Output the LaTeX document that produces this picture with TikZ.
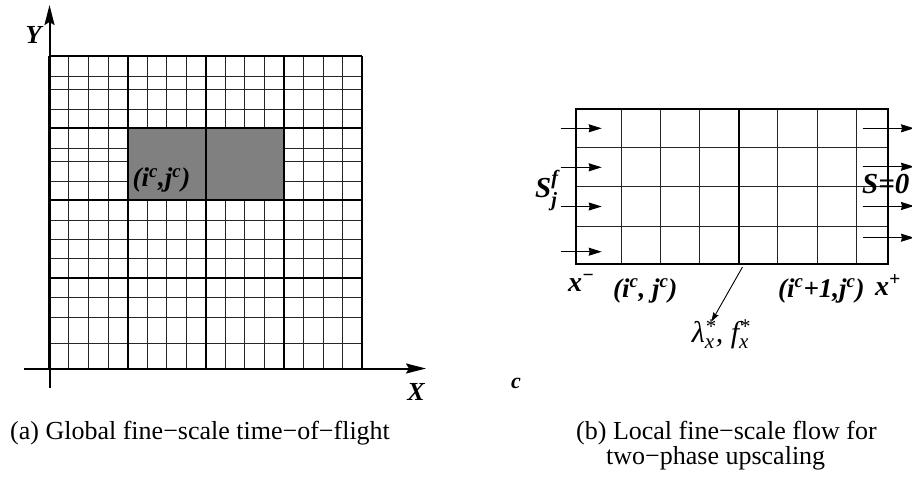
\documentclass[tikz,border=0pt]{standalone}
\usepackage{fontspec}
\usepackage{amsmath}
\setmainfont{Liberation Serif}
\usetikzlibrary{arrows.meta}
\definecolor{cellgray}{RGB}{128,128,128}
\begin{document}
\begin{tikzpicture}[x=1pt,y=-1pt,
  fine/.style={line width=0.9pt, black!85},
  heavy/.style={line width=2pt, black},
  lab/.style={font=\fontsize{26}{30}\selectfont\bfseries\itshape, inner sep=0pt},
  rlab/.style={font=\fontsize{28}{32}\selectfont\bfseries\itshape, inner sep=0pt},
  captxt/.style={font=\fontsize{26}{30}\selectfont, inner sep=0pt},
  flowarrow/.style={line width=1pt, -{Stealth[length=13pt,width=8pt,inset=1pt]}},
  axisarrow/.style={line width=2pt, -{Stealth[length=20pt,width=10pt,inset=3pt]}}
]
\useasboundingbox (0,0) rectangle (912,477);
\clip (0,0) rectangle (912,477);

% ---------- left: global fine grid ----------
\foreach \k in {1,...,15}
  \draw[fine] ({49.3+\k*19.5625},56) -- ({49.3+\k*19.5625},368.5);
\foreach \yy in {76,89.3,109.3,148.3,161,181,220,239.3,258.7,297.7,317,343}
  \draw[fine] (49.3,\yy) -- (362.3,\yy);
\fill[cellgray] (127.55,128.3) rectangle (284.05,200.3);
\foreach \xx in {49.3,127.55,205.8,284.05,362.3}
  \draw[heavy] (\xx,56) -- (\xx,368.5);
\foreach \yy in {56,128.3,200.3,278,368.5}
  \draw[heavy] (49.3,\yy) -- (362.3,\yy);

% axes
\coordinate (xaxs) at (24,368.5);
\coordinate (xaxe) at (426,368.5);
\coordinate (yaxs) at (49.5,388);
\coordinate (yaxe) at (49.5,5);
\draw[axisarrow] (xaxs) -- (xaxe);
\draw[axisarrow] (yaxs) -- (yaxe);

\node[lab] (ylab) at (33.5,35) {Y};
\node[lab] (xlab) at (416,391.5) {X};
\node[lab, font=\fontsize{27}{30}\selectfont\bfseries\itshape] (cellab) at (161.5,180)
  {(i\textsuperscript{c},j\textsuperscript{c})};

% ---------- right: local fine grid ----------
\foreach \xx in {621.5,660.5,699.8,777.7,817,856}
  \draw[fine] (\xx,109) -- (\xx,264);
\foreach \yy in {147.7,186.7,226}
  \draw[fine] (576,\yy) -- (888,\yy);
\draw[heavy] (576,109) rectangle (888,264);
\draw[heavy] (739,109) -- (739,264);

% inflow arrows
\foreach \yy [count=\i] in {128.3,167.3,206.5,251.7} {
  \coordinate (ls\i) at (560.7,\yy);
  \coordinate (le\i) at (601.7,\yy);
  \draw[flowarrow] (ls\i) -- (le\i);
}
% outflow arrows
\foreach \yy [count=\i] in {128.3,166.7,206,237.7} {
  \coordinate (rs\i) at (862.7,\yy);
  \coordinate (re\i) at (914,\yy);
  \draw[flowarrow] (rs\i) -- (re\i);
}

\node[rlab, font=\fontsize{29}{32}\selectfont\bfseries\itshape, anchor=base west] (sf) at (535,197) {S$^{\text{f}}_{\text{j}}$};
\node[rlab, font=\fontsize{29}{32}\selectfont\bfseries\itshape, anchor=base west] (s0) at (862,193.3) {S=0};
\node[rlab, anchor=base west] (xm) at (568,291) {x\textsuperscript{−}};
\node[rlab, font=\fontsize{27}{30}\selectfont\bfseries\itshape, anchor=base west] (cl) at (613,297)
  {(i\textsuperscript{c}, j\textsuperscript{c})};
\node[rlab, font=\fontsize{27}{30}\selectfont\bfseries\itshape, anchor=base west] (cr) at (778,297)
  {(i\textsuperscript{c}+1,j\textsuperscript{c})};
\node[rlab, anchor=base west] (xp) at (875,295) {x\textsuperscript{+}};

\node[inner sep=0pt, font=\fontsize{30}{32}\selectfont\itshape] (lam) at (721,334)
  {λ$^{\text{*}}_{\text{x}}$, f$^{\text{*}}_{\text{x}}$};
\coordinate (mid) at (742.5,267);
\coordinate (lamtip) at (711.5,321.5);
\draw[line width=0.9pt, -{Stealth[length=9pt,width=6pt,inset=1pt]}] (mid) -- (lamtip);

\node[inner sep=0pt, font=\fontsize{22}{24}\selectfont\bfseries\itshape] (stray) at (516,383) {c};

% captions
\node[captxt, anchor=base west] (capa) at (10,439) {(a) Global fine−scale time−of−flight};
\node[captxt, anchor=base west] (capb1) at (576,439) {(b) Local fine−scale flow for};
\node[captxt, anchor=base west] (capb2) at (606,464) {two−phase upscaling};
\end{tikzpicture}
\end{document}
